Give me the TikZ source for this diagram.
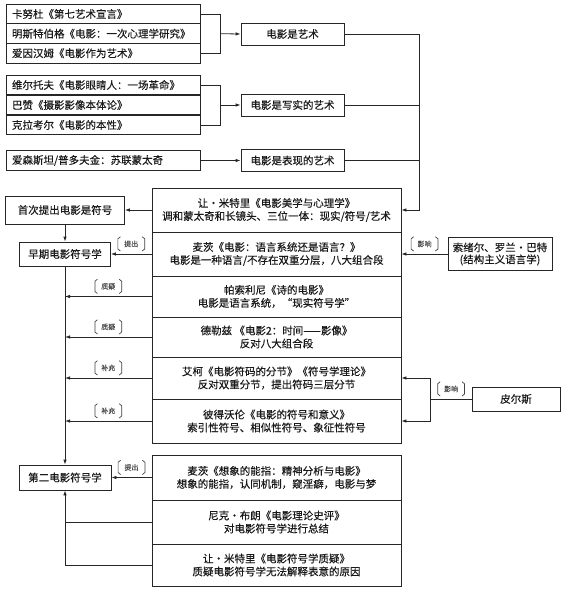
\documentclass[tikz,border=0pt]{standalone}
\usepackage{fontspec}
\setmainfont{Noto Sans CJK SC}[FakeBold=0.3]
\usetikzlibrary{arrows.meta}
\tikzset{
  src/.style={draw,text width=182pt,minimum height=19.7pt,inner xsep=6pt,inner ysep=0pt,align=left,font=\fontsize{10.5}{12}\selectfont},
  idea/.style={draw,minimum width=103pt,minimum height=22pt,inner sep=0pt,font=\fontsize{10.5}{12}\selectfont},
  stage/.style={draw,inner sep=0pt,font=\fontsize{10.5}{12}\selectfont},
  mrow/.style={draw,minimum width=249pt,inner sep=0pt,align=center,font=\fontsize{10.5}{13}\selectfont},
  arr/.style={-{Latex[length=5pt,width=3.5pt]}},
  tag/.style={above,yshift=3pt,inner xsep=7pt,inner ysep=3.5pt,text=black!70,font=\fontsize{7}{7}\selectfont},
  brk/.style={line width=0.7pt,draw=black!75}
}
\newcommand{\brackets}[1]{%
  \draw[brk] ([xshift=3.5pt]#1.north west) -- ([xshift=1pt,yshift=-2pt]#1.north west) -- ([xshift=1pt,yshift=2pt]#1.south west) -- ([xshift=3.5pt]#1.south west);
  \draw[brk] ([xshift=-3.5pt]#1.north east) -- ([xshift=-1pt,yshift=-2pt]#1.north east) -- ([xshift=-1pt,yshift=2pt]#1.south east) -- ([xshift=-3.5pt]#1.south east);}
\begin{document}
\begin{tikzpicture}[x=1pt,y=-1pt,line width=0.8pt,draw=black!85,text=black!90]
\useasboundingbox (0,0) rectangle (566,600);
% ---- 上部：三组来源 ----
\node[src] (a1) at (103,14) {卡努杜《第七艺术宣言》};
\node[src] (a2) at (103,33.7) {明斯特伯格《电影：一次心理学研究》};
\node[src] (a3) at (103,53.3) {爱因汉姆《电影作为艺术》};
\node[idea] (art) at (292.5,34) {电影是艺术};
\draw (a1.east) -- ++(20,0) coordinate (ab) |- (a3.east);
\draw[arr] (ab |- a2.east) -- (art.west);
\node[src] (b1) at (103,85) {维尔托夫《电影眼睛人：一场革命》};
\node[src] (b2) at (103,105) {巴赞《摄影影像本体论》};
\node[src] (b3) at (103,125) {克拉考尔《电影的本性》};
\node[idea] (real) at (292.5,105) {电影是写实的艺术};
\draw (b1.east) -- ++(20,0) coordinate (bb) |- (b3.east);
\draw[arr] (bb |- b2.east) -- (real.west);
\node[src] (c1) at (103,160.5) {爱森斯坦/普多夫金：苏联蒙太奇};
\node[idea] (expr) at (292.5,160.5) {电影是表现的艺术};
\draw[arr] (c1.east) -- (expr.west);
% ---- 右侧汇线 ----
\draw (art.east) -- ++(75,0) coordinate (sp);
\draw (real.east) -- (real.east -| sp);
\draw (expr.east) -- (expr.east -| sp);
% ---- 中列 ----
\node[mrow,minimum height=44pt] (r1) at (276.5,210) {让·米特里《电影美学与心理学》\\调和蒙太奇和长镜头、三位一体：现实/符号/艺术};
\node[mrow,minimum height=44pt] (r2) at (276.5,254) {麦茨《电影：语言系统还是语言？》\\电影是一种语言/不存在双重分层，八大组合段};
\node[mrow,minimum height=41pt] (r3) at (276.5,296.5) {帕索利尼《诗的电影》\\电影是语言系统，“现实符号学”};
\node[mrow,minimum height=40pt] (r4) at (276.5,337) {德勒兹\ 《电影2：时间——影像》\\反对八大组合段};
\node[mrow,minimum height=42pt] (r5) at (276.5,378) {艾柯《电影符码的分节》《符号学理论》\\反对双重分节，提出符码三层分节};
\node[mrow,minimum height=44pt] (r6) at (276.5,421) {彼得沃伦《电影的符号和意义》\\索引性符号、相似性符号、象征性符号};
\node[mrow,minimum height=45pt] (r7) at (276.5,477.5) {麦茨《想象的能指：精神分析与电影》\\想象的能指，认同机制，窥淫癖，电影与梦};
\node[mrow,minimum height=44pt] (r8) at (276.5,522) {尼克·布朗《电影理论史评》\\对电影符号学进行总结};
\node[mrow,minimum height=42pt] (r9) at (276.5,565) {让·米特里《电影符号学质疑》\\质疑电影符号学无法解释表意的原因};
\draw[arr] (sp) |- (r1.east);
% ---- 左列 ----
\node[stage,minimum width=119pt,minimum height=28pt] (first) at (65,210) {首次提出电影是符号};
\node[stage,minimum width=91pt,minimum height=24pt] (early) at (65,254) {早期电影符号学};
\node[stage,minimum width=92pt,minimum height=25pt] (second) at (65,477.5) {第二电影符号学};
\draw[arr] (r1.west) -- (first.east);
\draw[arr] (first.south) -- (early.north);
\draw[arr] (r2.west) -- node[tag] (t1) {提出} (early.east);
\draw[arr] (early.south) -- (second.north);
\foreach \r/\t/\n in {r3/质疑/t2,r4/质疑/t3,r5/补充/t4,r6/补充/t5}
  \draw[arr] (\r.west) -- node[tag] (\n) {\t} (\r.west -| early.south);
\draw[arr] (r7.west) -- node[tag] (t6) {提出} (second.east);
\draw (r8.west) -- (r8.west -| second.south);
\draw[arr] (r9.west) -| (second.south);
% ---- 右列 ----
\node[stage,minimum width=104pt,minimum height=33pt,align=center] (sau) at (500,254) {索绪尔、罗兰·巴特\\(结构主义语言学)};
\node[stage,minimum width=88pt,minimum height=24pt] (pei) at (516,399) {皮尔斯};
\draw[arr] (sau.west) -- node[tag] (t7) {影响} (r2.east);
\draw (pei.west) -- node[tag] (t8) {影响} ++(-41,0) coordinate (pj);
\draw[arr] (pj) |- (r5.east);
\draw[arr] (pj) |- (r6.east);
% ---- 标注括号 ----
\foreach \n in {t1,t2,t3,t4,t5,t6,t7,t8} {\brackets{\n}}
\end{tikzpicture}
\end{document}
